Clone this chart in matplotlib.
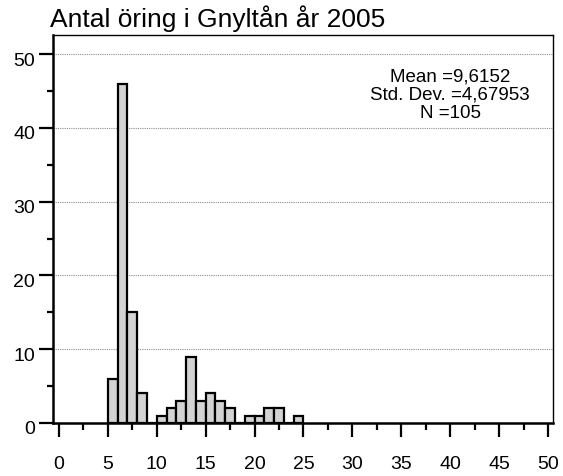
import matplotlib
matplotlib.use("Agg")
import matplotlib.pyplot as plt
import matplotlib.transforms as mtransforms
from matplotlib.ticker import MultipleLocator

# bin left edges (width 1) and counts
bin_left = [5, 6, 7, 8, 9, 10, 11, 12, 13, 14, 15, 16, 17, 18, 19, 20, 21, 22, 23, 24]
counts = [6, 46, 15, 4, 0, 1, 2, 3, 9, 3, 4, 3, 2, 0, 1, 1, 2, 2, 0, 1]
x_ticks = [0, 5, 10, 15, 20, 25, 30, 35, 40, 45, 50]
y_ticks = [0, 10, 20, 30, 40, 50]
stats = ["Mean =9,6152", "Std. Dev. =4,67953", "N =105"]
title = "Antal öring i Gnyltån år 2005"

plt.rcParams["font.family"] = ["Liberation Sans", "DejaVu Sans"]

W, H = 563, 477
fig = plt.figure(figsize=(W / 100, H / 100), dpi=100)
fig.patch.set_facecolor("white")
ax = fig.add_axes([53 / W, 1 - 424 / H, 500 / W, 388 / H])

for y in y_ticks[1:]:
    ax.axhline(y, color="#8c8c8c", lw=0.8, ls=(0, (1, 1)), zorder=0)

ax.bar(bin_left, counts, width=1, align="edge", color="#d3d3d3",
       edgecolor="black", linewidth=1.6, zorder=2)

ax.set_xlim(-0.6, 50.5)
ax.set_ylim(0, 52.6)
ax.set_xticks(x_ticks)
ax.set_yticks(y_ticks)
ax.xaxis.set_minor_locator(MultipleLocator(2.5))
ax.yaxis.set_minor_locator(MultipleLocator(5))
ax.tick_params(axis="x", which="major", direction="out", length=10, width=1.6, labelsize=14, pad=13)
ax.tick_params(axis="x", which="minor", direction="out", length=5, width=1.6)
ax.tick_params(axis="y", which="major", direction="out", length=10, width=1.6, labelsize=14, pad=3)
ax.tick_params(axis="y", which="minor", direction="out", length=4.3, width=1.6)
# y labels sit a little below their ticks in the original
off = mtransforms.ScaledTranslation(0, -4 / 100, fig.dpi_scale_trans)
for lbl in ax.get_yticklabels():
    lbl.set_transform(lbl.get_transform() + off)
for s in ["left", "bottom"]:
    ax.spines[s].set_linewidth(1.8)
for s in ["top", "right"]:
    ax.spines[s].set_linewidth(1)

for i, line in enumerate(stats):
    fig.text(450 / W, 1 - (82 + 18 * i) / H, line, ha="center", va="baseline", fontsize=13.5)

fig.text(50 / W, 1 - 27 / H, title, ha="left", va="baseline", fontsize=19)

fig.savefig("out.png", dpi=100)
